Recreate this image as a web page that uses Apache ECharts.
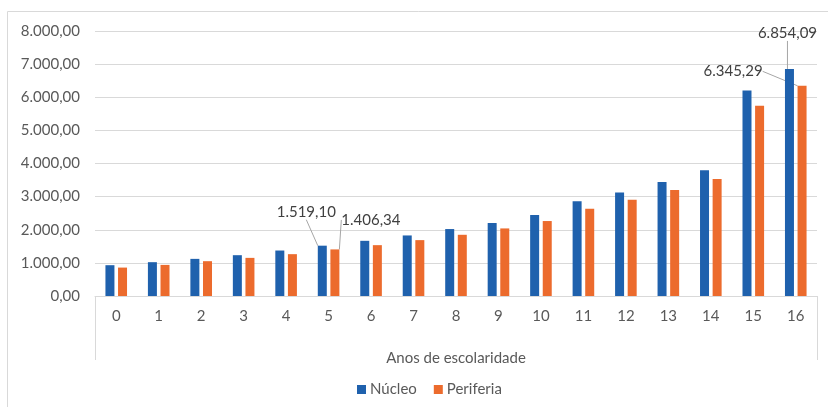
<!DOCTYPE html>
<html>
<head>
<meta charset="utf-8">
<script src="https://cdn.jsdelivr.net/npm/echarts@6/dist/echarts.min.js"></script>
<style>
html,body{margin:0;padding:0;background:#fff;}
#c{width:828px;height:407px;}
</style>
</head>
<body>
<div id="c"></div>
<script>
var categories = ['0','1','2','3','4','5','6','7','8','9','10','11','12','13','14','15','16'];
var nucleo   = [930, 1021, 1121, 1232, 1373, 1519.10, 1666, 1828, 2021, 2203, 2445, 2858, 3121, 3444, 3798, 6202, 6854.09];
var periferia = [858, 939, 1051, 1151, 1263, 1406.34, 1535, 1687, 1848, 2040, 2263, 2636, 2909, 3202, 3535, 5747, 6345.29];
var yTicks = {min: 0, max: 8000, interval: 1000};
var labelledIndices = [5, 16];

var FONT = 'Lato, "Liberation Sans", sans-serif';
// label offsets (seriesIndex-dataIndex)
var labelOffsets = {
  '0-5': [-16, -21],
  '1-5': [36, -17],
  '0-16': [-2, -23],
  '1-16': [-69, -2]
};

function fmt(v) {
  var parts = v.toFixed(2).split('.');
  var intPart = parts[0].replace(/\B(?=(\d{3})+(?!\d))/g, '.');
  return intPart + ',' + parts[1];
}

function buildData(arr) {
  return arr.map(function (v, i) {
    if (labelledIndices.indexOf(i) >= 0) {
      return {value: v, label: {show: true}, labelLine: {show: true}};
    }
    return v;
  });
}

var GL = 95, GR = 11, GT = 31, GB = 111;
var chart = echarts.init(document.getElementById('c'));
var option = {
  animation: false,
  textStyle: {fontFamily: FONT},
  grid: {left: GL, right: GR, top: GT, bottom: GB},
  legend: {
    data: ['Núcleo', 'Periferia'],
    left: 352, top: 377,
    icon: 'rect', itemWidth: 9, itemHeight: 9, itemGap: 17,
    textStyle: {fontFamily: FONT, fontSize: 15, color: '#595959', padding: [0, 0, 0, -1]}
  },
  xAxis: {
    type: 'category',
    data: categories,
    name: 'Anos de escolaridade',
    nameLocation: 'middle',
    nameGap: 55,
    nameTextStyle: {fontFamily: FONT, fontSize: 15, color: '#595959'},
    axisLine: {show: true, lineStyle: {color: '#d9d9d9', width: 1}},
    axisTick: {show: false},
    axisLabel: {fontFamily: FONT, fontSize: 15, color: '#595959', margin: 13}
  },
  yAxis: {
    type: 'value',
    min: yTicks.min, max: yTicks.max, interval: yTicks.interval,
    axisLine: {show: false},
    axisTick: {show: false},
    splitLine: {lineStyle: {color: '#d9d9d9', width: 1}},
    axisLabel: {fontFamily: FONT, fontSize: 15, color: '#595959', margin: 15,
      formatter: function (v) { return fmt(v); }}
  },
  series: [
    {
      name: 'Núcleo', type: 'bar', data: buildData(nucleo),
      barWidth: 9, barGap: '40%',
      itemStyle: {color: '#1F61AD'},
      label: {show: false, position: 'top', fontFamily: FONT, fontSize: 15, color: '#404040',
        formatter: function (p) { return fmt(p.value); }},
      labelLine: {show: false, lineStyle: {color: '#a6a6a6', width: 1}}
    },
    {
      name: 'Periferia', type: 'bar', data: buildData(periferia),
      barWidth: 9,
      itemStyle: {color: '#EC6B2D'},
      label: {show: false, position: 'top', fontFamily: FONT, fontSize: 15, color: '#404040',
        formatter: function (p) { return fmt(p.value); }},
      labelLine: {show: false, lineStyle: {color: '#a6a6a6', width: 1}}
    }
  ],
  labelLayout: function (params) {
    var off = labelOffsets[params.seriesIndex + '-' + params.dataIndex];
    if (!off) return {};
    return {dx: off[0], dy: off[1]};
  },
  graphic: [
    {type: 'rect', shape: {x: 7.5, y: 11.5, width: 900, height: 600},
     style: {fill: null, stroke: '#d9d9d9', lineWidth: 1}, silent: true},
    {type: 'line', shape: {x1: GL + 0.5, y1: 407 - GB, x2: GL + 0.5, y2: 360},
     style: {stroke: '#d9d9d9', lineWidth: 1}, silent: true},
    {type: 'line', shape: {x1: 828 - GR + 0.5, y1: 407 - GB, x2: 828 - GR + 0.5, y2: 360},
     style: {stroke: '#d9d9d9', lineWidth: 1}, silent: true}
  ]
};
chart.setOption(option);
</script>
</body>
</html>
